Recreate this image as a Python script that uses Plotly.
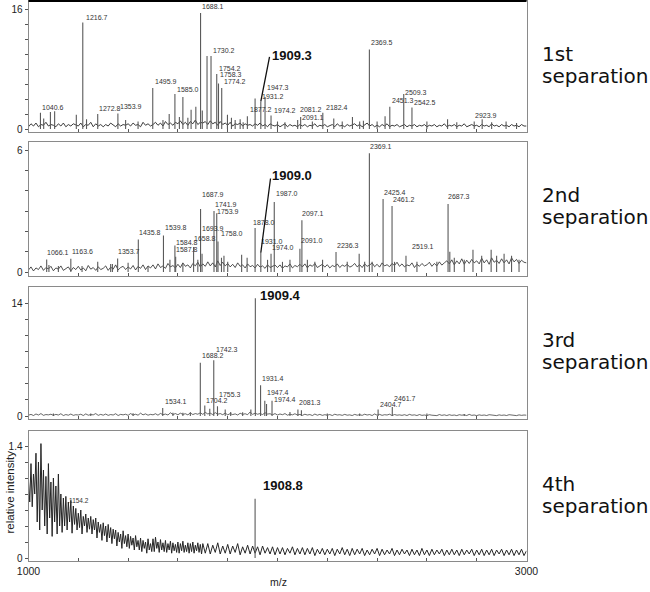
import numpy as np
import plotly.graph_objects as go

FONT = "Liberation Sans, Arial, sans-serif"
SIDE_FONT = "DejaVu Sans, Liberation Sans, sans-serif"

# ---------------- DATA ----------------
# m/z sampling of the noise baseline
grid_10 = list(range(1000, 3001, 10))
grid_p4 = list(range(1000, 1701, 5)) + list(range(1710, 3001, 10))

# ---- 1st separation ----
p1_noise = [
    0.3, 0.7, 0.4, 0.8, 0.3, 0.6, 0.5, 0.9, 0.4, 0.6,
    0.5, 0.3, 0.7, 0.4, 0.8, 0.3, 0.6, 0.4, 0.7, 0.5,
    0.4, 0.8, 0.3, 0.6, 0.5, 0.9, 0.3, 0.7, 0.4, 0.6,
    0.3, 0.6, 0.4, 0.8, 0.5, 0.3, 0.7, 0.4, 0.6, 0.5,
    0.7, 0.4, 0.8, 0.5, 0.6, 0.3, 0.9, 0.5, 0.7, 0.4,
    0.6, 0.9, 0.5, 0.8, 0.4, 1.0, 0.6, 0.8, 0.5, 0.9,
    0.7, 1.1, 0.6, 0.9, 0.5, 1.0, 0.7, 1.2, 0.6, 0.9,
    0.8, 1.0, 0.6, 1.1, 0.7, 0.9, 0.5, 1.0, 0.6, 0.8,
    0.5, 0.9, 0.4, 0.7, 0.6, 0.8, 0.4, 0.7, 0.5, 0.6,
    0.4, 0.7, 0.5, 0.8, 0.4, 0.6, 0.3, 0.7, 0.5, 0.4,
    0.6, 0.3, 0.5, 0.7, 0.3, 0.6, 0.4, 0.5, 0.3, 0.6,
    0.4, 0.6, 0.3, 0.5, 0.4, 0.7, 0.3, 0.5, 0.4, 0.6,
    0.3, 0.5, 0.6, 0.3, 0.7, 0.4, 0.5, 0.3, 0.6, 0.4,
    0.5, 0.7, 0.4, 0.6, 0.3, 0.5, 0.8, 0.4, 0.6, 0.3,
    0.5, 0.3, 0.6, 0.4, 0.7, 0.3, 0.5, 0.4, 0.6, 0.3,
    0.4, 0.6, 0.3, 0.5, 0.4, 0.6, 0.3, 0.5, 0.4, 0.6,
    0.3, 0.5, 0.4, 0.6, 0.3, 0.5, 0.4, 0.7, 0.3, 0.5,
    0.4, 0.6, 0.3, 0.5, 0.4, 0.7, 0.3, 0.5, 0.6, 0.4,
    0.5, 0.3, 0.6, 0.4, 0.5, 0.3, 0.7, 0.4, 0.5, 0.3,
    0.6, 0.4, 0.5, 0.3, 0.6, 0.4, 0.5, 0.3, 0.6, 0.4,
    0.4,
]
p1_mz = [1048, 1061, 1088, 1105, 1192, 1218, 1233, 1278, 1359, 1390,
         1440, 1499, 1540, 1565, 1588, 1606, 1620, 1640, 1653, 1672,
         1691, 1698, 1717, 1733, 1756, 1763, 1776, 1799, 1815, 1830,
         1850, 1862, 1879, 1910, 1933, 1950, 1974, 2000, 2030, 2081,
         2093, 2140, 2182, 2226, 2260, 2301, 2330, 2345, 2369, 2400,
         2432, 2451, 2507, 2540, 2600, 2683, 2720, 2790, 2822, 2860,
         2918, 2960]
p1_int = [2.2, 1.4, 2.3, 2.4, 1.9, 14.3, 1.3, 2.0, 2.1, 1.2,
          1.0, 5.5, 1.2, 2.0, 4.7, 1.6, 4.3, 1.5, 2.6, 3.0,
          15.6, 2.5, 9.8, 9.8, 7.4, 6.1, 5.5, 1.9, 1.5, 1.2,
          1.3, 0.9, 1.7, 4.1, 3.7, 4.3, 1.8, 1.0, 0.9, 1.2,
          1.6, 1.0, 2.2, 1.4, 1.0, 1.6, 1.0, 1.1, 10.7, 1.0,
          1.7, 3.0, 4.7, 2.9, 1.0, 1.3, 0.9, 1.0, 1.3, 0.9,
          1.0, 0.8]
p1_lab_text = ["1040.6", "1216.7", "1272.8", "1353.9", "1495.9", "1585.0", "1688.1",
               "1730.2", "1754.2", "1758.3", "1774.2", "1877.2", "1931.2", "1947.3",
               "1974.2", "2081.2", "2091.1", "2182.4", "2369.5", "2451.3", "2509.3",
               "2542.5", "2923.9"]
p1_lab_peak = [1048, 1218, 1278, 1359, 1499, 1588, 1691, 1733, 1756, 1763, 1776, 1879,
               1933, 1950, 1974, 2081, 2093, 2182, 2369, 2451, 2507, 2540, 2822]
p1_main_text, p1_main_peak = "1909.3", 1933

# ---- 2nd separation ----
p2_noise = [
    0.10, 0.25, 0.05, 0.20, 0.12, 0.30, 0.08, 0.22, 0.15, 0.28,
    0.06, 0.20, 0.14, 0.30, 0.08, 0.18, 0.25, 0.05, 0.22, 0.12,
    0.28, 0.10, 0.20, 0.06, 0.32, 0.14, 0.22, 0.08, 0.26, 0.12,
    0.18, 0.30, 0.08, 0.24, 0.14, 0.35, 0.10, 0.22, 0.28, 0.12,
    0.25, 0.15, 0.32, 0.10, 0.28, 0.18, 0.35, 0.12, 0.30, 0.20,
    0.35, 0.15, 0.40, 0.22, 0.30, 0.18, 0.42, 0.25, 0.32, 0.20,
    0.38, 0.22, 0.45, 0.28, 0.35, 0.20, 0.42, 0.30, 0.48, 0.25,
    0.40, 0.28, 0.50, 0.30, 0.45, 0.25, 0.55, 0.32, 0.48, 0.30,
    0.42, 0.25, 0.38, 0.22, 0.45, 0.28, 0.35, 0.20, 0.40, 0.26,
    0.32, 0.20, 0.38, 0.24, 0.30, 0.18, 0.36, 0.22, 0.28, 0.34,
    0.22, 0.35, 0.18, 0.30, 0.25, 0.40, 0.20, 0.32, 0.26, 0.38,
    0.25, 0.40, 0.20, 0.35, 0.28, 0.42, 0.22, 0.30, 0.38, 0.24,
    0.36, 0.20, 0.32, 0.26, 0.40, 0.22, 0.34, 0.28, 0.38, 0.24,
    0.30, 0.42, 0.25, 0.36, 0.22, 0.40, 0.28, 0.34, 0.45, 0.26,
    0.38, 0.24, 0.45, 0.30, 0.36, 0.26, 0.42, 0.32, 0.48, 0.28,
    0.40, 0.25, 0.35, 0.30, 0.45, 0.22, 0.38, 0.28, 0.42, 0.30,
    0.35, 0.48, 0.28, 0.42, 0.30, 0.50, 0.34, 0.45, 0.55, 0.40,
    0.60, 0.35, 0.55, 0.40, 0.65, 0.38, 0.58, 0.42, 0.62, 0.45,
    0.55, 0.40, 0.68, 0.45, 0.60, 0.38, 0.70, 0.48, 0.58, 0.42,
    0.65, 0.45, 0.60, 0.40, 0.70, 0.50, 0.62, 0.42, 0.58, 0.48,
    0.45,
]
p2_mz = [1073, 1082, 1120, 1170, 1215, 1278, 1330, 1337, 1358, 1400,
         1441, 1480, 1542, 1568, 1588, 1591, 1620, 1663, 1680, 1691,
         1697, 1745, 1756, 1761, 1775, 1785, 1800, 1856, 1878, 1910,
         1933, 1960, 1974, 1987, 2020, 2050, 2090, 2098, 2120, 2150,
         2181, 2235, 2280, 2328, 2350, 2369, 2380, 2424, 2460, 2470,
         2516, 2560, 2640, 2685, 2692, 2710, 2750, 2785, 2820, 2858,
         2880, 2910, 2940, 2970]
p2_int = [0.62, 0.35, 0.3, 0.65, 0.3, 0.5, 0.4, 0.4, 0.66, 0.45,
          1.6, 0.3, 1.8, 0.6, 1.3, 0.75, 0.4, 1.23, 0.6, 3.1,
          0.9, 3.0, 2.9, 1.5, 0.7, 0.8, 0.5, 0.85, 0.7, 2.17,
          0.95, 0.6, 0.9, 3.45, 0.5, 0.6, 1.15, 2.55, 0.6, 0.5,
          0.6, 0.98, 0.5, 0.9, 0.5, 5.85, 0.5, 3.6, 3.25, 0.5,
          0.8, 0.5, 0.5, 3.35, 1.0, 0.7, 0.6, 1.1, 0.8, 1.1,
          0.8, 0.9, 0.8, 0.6]
p2_lab_text = ["1066.1", "1163.6", "1353.7", "1435.8", "1539.8", "1584.8", "1587.8",
               "1658.8", "1687.9", "1693.9", "1741.9", "1753.9", "1758.0", "1878.0",
               "1931.0", "1974.0", "1987.0", "2091.0", "2097.1", "2236.3", "2369.1",
               "2425.4", "2461.2", "2519.1", "2687.3"]
p2_lab_peak = [1073, 1170, 1358, 1441, 1542, 1588, 1591, 1663, 1691, 1697, 1745, 1756,
               1761, 1910, 1933, 1974, 1987, 2090, 2098, 2235, 2369, 2424, 2460, 2516, 2685]
p2_main_text, p2_main_peak = "1909.0", 1933

# ---- 3rd separation ----
p3_noise = [
    0.10, 0.20, 0.06, 0.25, 0.12, 0.30, 0.08, 0.18, 0.14, 0.22,
    0.08, 0.20, 0.12, 0.28, 0.06, 0.18, 0.10, 0.24, 0.08, 0.16,
    0.12, 0.22, 0.06, 0.26, 0.10, 0.18, 0.14, 0.30, 0.08, 0.20,
    0.10, 0.24, 0.08, 0.18, 0.12, 0.28, 0.06, 0.20, 0.14, 0.22,
    0.08, 0.30, 0.12, 0.22, 0.10, 0.35, 0.14, 0.26, 0.10, 0.20,
    0.14, 0.28, 0.10, 0.32, 0.16, 0.24, 0.12, 0.40, 0.18, 0.30,
    0.15, 0.35, 0.20, 0.28, 0.14, 0.38, 0.18, 0.30, 0.22, 0.40,
    0.20, 0.45, 0.25, 0.35, 0.18, 0.42, 0.22, 0.30, 0.16, 0.36,
    0.14, 0.30, 0.18, 0.26, 0.12, 0.34, 0.20, 0.28, 0.16, 0.50,
    0.20, 0.35, 0.22, 0.30, 0.18, 0.40, 0.24, 0.28, 0.15, 0.30,
    0.12, 0.25, 0.16, 0.30, 0.10, 0.22, 0.14, 0.28, 0.12, 0.20,
    0.08, 0.22, 0.12, 0.18, 0.06, 0.24, 0.10, 0.20, 0.08, 0.16,
    0.10, 0.18, 0.06, 0.22, 0.12, 0.16, 0.08, 0.20, 0.10, 0.14,
    0.06, 0.20, 0.10, 0.16, 0.08, 0.22, 0.12, 0.18, 0.06, 0.25,
    0.10, 0.20, 0.08, 0.16, 0.12, 0.22, 0.06, 0.18, 0.10, 0.14,
    0.08, 0.16, 0.06, 0.20, 0.10, 0.14, 0.06, 0.18, 0.08, 0.12,
    0.06, 0.16, 0.10, 0.12, 0.05, 0.18, 0.08, 0.14, 0.06, 0.16,
    0.08, 0.12, 0.05, 0.16, 0.10, 0.14, 0.06, 0.20, 0.08, 0.12,
    0.05, 0.14, 0.08, 0.12, 0.06, 0.16, 0.10, 0.12, 0.05, 0.14,
    0.08, 0.12, 0.06, 0.16, 0.10, 0.12, 0.05, 0.14, 0.08, 0.12,
    0.10,
]
p3_mz = [1100, 1250, 1420, 1539, 1580, 1620, 1650, 1690, 1708, 1728,
         1744, 1759, 1790, 1812, 1860, 1893, 1911, 1932, 1949, 1956,
         1978, 2050, 2082, 2096, 2200, 2330, 2404, 2461, 2600, 2750]
p3_int = [0.3, 0.3, 0.35, 1.0, 0.4, 0.4, 0.45, 6.6, 1.3, 0.9,
          6.9, 1.2, 0.8, 0.5, 0.45, 0.8, 14.6, 3.8, 1.9, 1.5,
          1.9, 0.5, 0.8, 0.7, 0.3, 0.3, 0.8, 1.1, 0.3, 0.25]
p3_lab_text = ["1534.1", "1688.2", "1704.2", "1742.3", "1755.3", "1931.4", "1947.4",
               "1974.4", "2081.3", "2404.7", "2461.7"]
p3_lab_peak = [1539, 1690, 1708, 1744, 1759, 1932, 1949, 1978, 2082, 2404, 2461]
p3_main_text, p3_main_peak = "1909.4", 1911

# ---- 4th separation ----
p4_noise = [
    0.95, 0.70, 1.18, 0.64, 1.05, 0.80, 1.31, 0.45, 1.20, 0.35,
    1.43, 0.60, 1.10, 0.40, 1.02, 0.30, 1.18, 0.50, 0.95, 0.27,
    1.00, 0.45, 0.90, 0.30, 1.05, 0.40, 0.80, 0.32, 0.75, 0.40,
    0.77, 0.35, 0.70, 0.45, 0.72, 0.31, 0.65, 0.42, 0.62, 0.35,
    0.56, 0.38, 0.60, 0.30, 0.52, 0.40, 0.55, 0.32, 0.50, 0.36,
    0.52, 0.30, 0.48, 0.35, 0.50, 0.25, 0.45, 0.32, 0.42, 0.22,
    0.44, 0.28, 0.40, 0.20, 0.42, 0.25, 0.38, 0.18, 0.36, 0.24,
    0.35, 0.15, 0.32, 0.20, 0.30, 0.12, 0.34, 0.18, 0.28, 0.14,
    0.30, 0.12, 0.27, 0.16, 0.25, 0.10, 0.28, 0.14, 0.22, 0.10,
    0.25, 0.08, 0.22, 0.12, 0.20, 0.06, 0.24, 0.10, 0.18, 0.08,
    0.24, 0.08, 0.26, 0.12, 0.20, 0.07, 0.23, 0.10, 0.19, 0.08,
    0.22, 0.07, 0.18, 0.10, 0.21, 0.06, 0.19, 0.09, 0.17, 0.07,
    0.20, 0.06, 0.18, 0.09, 0.21, 0.07, 0.16, 0.08, 0.19, 0.06,
    0.18, 0.08, 0.20, 0.06, 0.16, 0.09, 0.19, 0.07, 0.17, 0.05,
    0.18,
    0.06, 0.18, 0.05, 0.16, 0.07, 0.19, 0.05, 0.15, 0.06, 0.17,
    0.05, 0.15, 0.07, 0.18, 0.04, 0.14, 0.06, 0.16, 0.05, 0.15,
    0.06, 0.14, 0.04, 0.15, 0.06, 0.13, 0.05, 0.14, 0.04, 0.13,
    0.05, 0.13, 0.04, 0.12, 0.06, 0.14, 0.04, 0.12, 0.05, 0.13,
    0.04, 0.12, 0.05, 0.13, 0.03, 0.11, 0.05, 0.12, 0.04, 0.11,
    0.05, 0.12, 0.03, 0.11, 0.05, 0.13, 0.04, 0.11, 0.03, 0.12,
    0.04, 0.11, 0.05, 0.12, 0.03, 0.10, 0.04, 0.11, 0.05, 0.12,
    0.03, 0.11, 0.04, 0.10, 0.05, 0.12, 0.03, 0.10, 0.04, 0.11,
    0.05, 0.10, 0.03, 0.11, 0.04, 0.10, 0.03, 0.12, 0.04, 0.10,
    0.03, 0.11, 0.04, 0.10, 0.05, 0.11, 0.03, 0.10, 0.04, 0.11,
    0.04, 0.10, 0.03, 0.11, 0.04, 0.10, 0.05, 0.11, 0.03, 0.10,
    0.04, 0.11, 0.03, 0.10, 0.04, 0.11, 0.03, 0.10, 0.05, 0.11,
    0.03, 0.10, 0.04, 0.11, 0.03, 0.10, 0.04, 0.11, 0.03, 0.09,
]
p4_mz = [1910]
p4_int = [0.74]
p4_lab_text, p4_lab_mz, p4_lab_int = "1154.2", 1154.2, 0.72
p4_main_text, p4_main_peak = "1908.8", 1910

panel_names = ["1st", "2nd", "3rd", "4th"]

# ---------------- LAYOUT / STYLE ----------------
W, H = 650, 592
XL, XR = 28.5, 526.5
# pixel geometry of each panel box: top, bottom, zero line, px per unit
geom = [
    dict(top=1, bottom=132, zero=129, ppu=7.44, ticks=list(range(0, 17, 2)), top_lab=16),
    dict(top=142, bottom=276, zero=272, ppu=20.3, ticks=list(range(0, 7)), top_lab=6),
    dict(top=287, bottom=419, zero=416, ppu=8.07, ticks=list(range(0, 15, 2)), top_lab=14),
    dict(top=431, bottom=561, zero=558, ppu=80.0, ticks=[0, 0.2, 0.4, 0.6, 0.8, 1.0, 1.2, 1.4], top_lab=1.4),
]
# label offsets (px) of each peak label centre relative to its peak top
p1_off = [(12.5, 5.6), (14.2, 5.6), (12.3, 6.1), (13.1, 6.4), (13.2, 6.1), (13.1, 5), (12.4, 6.9),
          (13, 5.1), (13.3, 5.9), (12.5, 9.6), (13.3, 6.1), (13.6, 6.4), (12.2, 4.5), (12.9, 10),
          (14, 5.6), (13.3, 10.1), (12.3, 0), (14, 5.6), (12.7, 6.4), (13.3, 5.7), (12.3, 2),
          (13, 5.4), (3.7, 4.3)]
p2_off = [(11.3, 7.4), (11.2, 7.8), (11.4, 7.6), (11.7, 7.5), (12.5, 7.5), (12.1, 3.6), (11.3, 6.8),
          (11.4, 9), (12.4, 14.1), (11, 25.5), (12, 7.1), (11.3, 2.1), (14, 8.0), (8.9, 5),
          (11.2, 11.7), (12, 6.7), (12.7, 8), (12.1, 7.7), (11.1, 7.2), (12, 7.1), (11.7, 7.2),
          (12, 6.9), (12, 7), (16.7, 8.8), (11, 7)]
p3_off = [(13.3, 6.9), (12.7, 7.7), (12.2, 5.5), (13.3, 11.3), (12.5, 12.3), (12.3, 7.3),
          (13.3, 7.7), (13, 0.7), (12, 7.5), (13, 5), (13, 9)]
# vertical centres (px below panel top) of the two lines of the side caption
SIDE_L1, SIDE_L2 = 53, 75

NOISE_C = "#262626"
PEAK_C = "#5a5a5a"
BOX_C = "#8a8a8a"
NOISE_W = [0.9, 0.8, 0.7, 1.0]

panels = [
    (grid_10, p1_noise, p1_mz, p1_int, p1_lab_text, p1_lab_peak, p1_off),
    (grid_10, p2_noise, p2_mz, p2_int, p2_lab_text, p2_lab_peak, p2_off),
    (grid_10, p3_noise, p3_mz, p3_int, p3_lab_text, p3_lab_peak, p3_off),
    (grid_p4, p4_noise, p4_mz, p4_int, [], [], []),
]

fig = go.Figure()
annotations = []
layout = dict(
    width=W, height=H, autosize=False,
    margin=dict(l=0, r=0, t=0, b=0, pad=0, autoexpand=False),
    paper_bgcolor="white", plot_bgcolor="white", showlegend=False,
    font=dict(family=FONT, color="#222"),
)

xticks = list(range(1000, 3001, 200))
for i, (grid, noise, pmz, pint, ltxt, lpk, loff) in enumerate(panels):
    n = i + 1
    g = geom[i]
    xa = "x" if n == 1 else f"x{n}"
    ya = "y" if n == 1 else f"y{n}"
    # noise baseline
    fig.add_trace(go.Scatter(x=grid, y=noise, mode="lines", xaxis=xa, yaxis=ya,
                             line=dict(color=NOISE_C, width=NOISE_W[i]), hoverinfo="skip"))
    # peaks as sticks
    sx, sy = [], []
    for m, h in zip(pmz, pint):
        sx += [m, m, None]
        sy += [0, h, None]
    fig.add_trace(go.Scatter(x=sx, y=sy, mode="lines", xaxis=xa, yaxis=ya,
                             line=dict(color=PEAK_C, width=1.1), hoverinfo="skip"))
    # axes
    yr = [-(g["bottom"] - g["zero"]) / g["ppu"], (g["zero"] - g["top"]) / g["ppu"]]
    dom = [1 - g["bottom"] / H, 1 - g["top"] / H]
    ytext = [("0" if t == 0 else (str(g["top_lab"]) if t == g["top_lab"] else "")) for t in g["ticks"]]
    layout["yaxis" + ("" if n == 1 else str(n))] = dict(
        domain=dom, range=yr, anchor=xa, showgrid=False, zeroline=False, automargin=False,
        showline=True, mirror=True, linecolor=BOX_C, linewidth=1,
        ticks="outside", ticklen=3, tickcolor="#555", tickvals=g["ticks"], ticktext=ytext,
        tickfont=dict(size=10, family=FONT, color="#222"), fixedrange=True,
    )
    xt = dict(
        domain=[XL / W, XR / W], range=[1000, 3000], anchor=ya, showgrid=False, zeroline=False,
        showline=True, mirror=True, linecolor=BOX_C, linewidth=1, automargin=False,
        ticks="inside", ticklen=3, tickcolor="#555", tickvals=xticks, fixedrange=True,
    )
    if n == 4:
        xt["ticktext"] = ["1000"] + [""] * (len(xticks) - 2) + ["3000"]
        xt["tickfont"] = dict(size=10.5, family=FONT, color="#222")
        xt["showticklabels"] = True
    else:
        xt["showticklabels"] = False
    layout["xaxis" + ("" if n == 1 else str(n))] = xt

    # peak labels
    for t, pk, (dx, dy) in zip(ltxt, lpk, loff):
        h = pint[pmz.index(pk)]
        annotations.append(dict(x=pk, y=h, xref=xa, yref=ya, text=t, showarrow=False,
                                xanchor="center", yanchor="middle", xshift=dx, yshift=dy,
                                font=dict(size=7, family=FONT, color="#333")))

    # panel name at right
    annotations.append(dict(x=540 / W, y=1 - (g["top"] + SIDE_L1) / H, xref="paper", yref="paper",
                            text=panel_names[i], showarrow=False, xanchor="left", yanchor="middle",
                            font=dict(size=20, family=SIDE_FONT, color="#111")))
    annotations.append(dict(x=540 / W, y=1 - (g["top"] + SIDE_L2) / H, xref="paper", yref="paper",
                            text="separation", showarrow=False, xanchor="left", yanchor="middle",
                            font=dict(size=20, family=SIDE_FONT, color="#111")))

# bold main labels with leaders
def main_label(n, text, pmz, pint, pk, dx, dy, leader=None):
    xa = "x" if n == 1 else f"x{n}"
    ya = "y" if n == 1 else f"y{n}"
    h = pint[pmz.index(pk)]
    annotations.append(dict(x=pk, y=h, xref=xa, yref=ya, text="<b>" + text + "</b>",
                            showarrow=False, xanchor="center", yanchor="middle",
                            xshift=dx, yshift=dy, font=dict(size=13, family=FONT, color="#111")))
    if leader:
        annotations.append(dict(x=pk, y=h, xref=xa, yref=ya, text="", showarrow=True,
                                arrowhead=0, arrowwidth=1.3, arrowcolor="#111",
                                ax=leader[0], ay=leader[1], standoff=0, startstandoff=0))

main_label(1, p1_main_text, p1_mz, p1_int, p1_main_peak, 31.2, 45.5, leader=(9, -46))
main_label(2, p2_main_text, p2_mz, p2_int, p2_main_peak, 30.9, 77.4, leader=(9.9, -75.7))
main_label(3, p3_main_text, p3_mz, p3_int, p3_main_peak, 24.7, 2.2)
main_label(4, p4_main_text, p4_mz, p4_int, p4_main_peak, 28, 13.8)

annotations.append(dict(x=p4_lab_mz, y=p4_lab_int, xref="x4", yref="y4", text=p4_lab_text,
                        showarrow=False, xanchor="left", yanchor="middle",
                        font=dict(size=6.5, family=FONT, color="#333")))

# axis titles
annotations.append(dict(x=278 / W, y=1 - 582 / H, xref="paper", yref="paper", text="m/z",
                        showarrow=False, xanchor="center", yanchor="middle",
                        font=dict(size=10.5, family=FONT, color="#222")))
annotations.append(dict(x=9.5 / W, y=1 - 492 / H, xref="paper", yref="paper",
                        text="relative intensity", textangle=-90, showarrow=False,
                        xanchor="center", yanchor="middle",
                        font=dict(size=11.5, family=FONT, color="#222")))

layout["annotations"] = annotations
layout["shapes"] = [dict(type="line", xref="paper", yref="paper", x0=XL / W, x1=XR / W,
                         y0=1 - 1 / H, y1=1 - 1 / H, line=dict(color="black", width=2))]
fig.update_layout(**layout)

fig.write_html("out.html", config={"displayModeBar": False, "responsive": False},
               post_script="document.body.style.margin='0';")
